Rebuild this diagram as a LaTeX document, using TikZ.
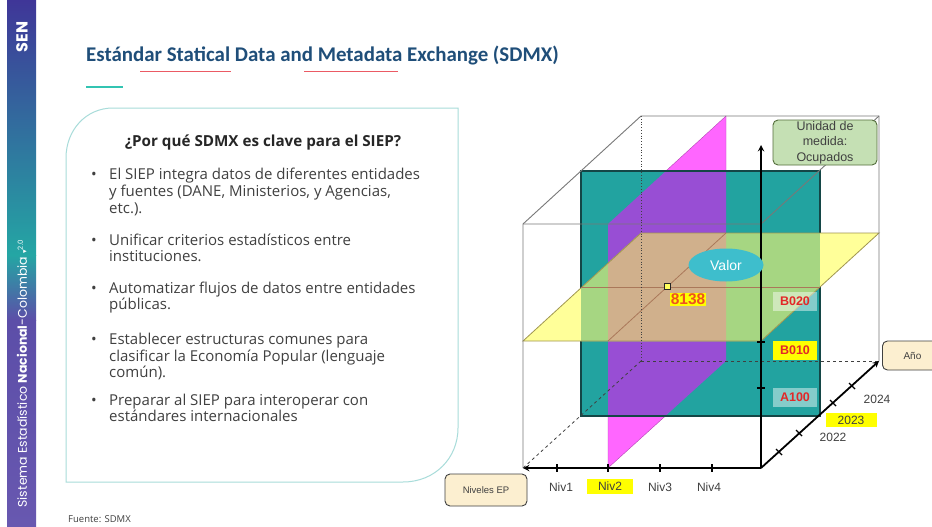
\documentclass[tikz,border=0pt]{standalone}
\usepackage{fontspec}
\setmainfont{Open Sans}
\newfontfamily\titlefont{Carlito}
\newfontfamily\labelfont{Liberation Sans}
\newfontfamily\sidefont{Poppins}
\newfontfamily\symfont{DejaVu Sans}
\usetikzlibrary{calc}
\usetikzlibrary{positioning}
\usetikzlibrary{shapes}
\definecolor{navy1}{RGB}{31,78,121}
\definecolor{teal1}{RGB}{51,196,178}
\definecolor{teal2}{RGB}{168,220,218}
\definecolor{gray1}{RGB}{64,64,64}
\definecolor{gray2}{RGB}{120,120,120}
\definecolor{gray3}{RGB}{38,38,38}
\definecolor{side1}{RGB}{63,54,152}
\definecolor{side2}{RGB}{36,166,164}
\definecolor{side3}{RGB}{92,78,168}
\definecolor{side4}{RGB}{104,88,176}
\definecolor{cubeteal}{RGB}{34,163,160}
\definecolor{cubemag}{RGB}{255,102,255}
\definecolor{cubepurple}{RGB}{152,78,212}
\definecolor{cubeyellow}{RGB}{255,255,153}
\definecolor{cubegreen}{RGB}{166,214,130}
\definecolor{cubetan}{RGB}{208,176,140}
\definecolor{tealedge}{RGB}{20,70,70}
\definecolor{yelledge}{RGB}{160,150,80}
\definecolor{brown1}{RGB}{170,120,90}
\definecolor{valor}{RGB}{62,190,204}
\definecolor{red1}{RGB}{226,40,40}
\definecolor{pink1}{RGB}{235,90,100}
\definecolor{orange1}{RGB}{238,80,30}
\definecolor{hilite}{RGB}{255,255,0}
\definecolor{peach}{RGB}{252,239,208}
\definecolor{green1}{RGB}{197,224,180}
\definecolor{green2}{RGB}{84,110,60}

\begin{document}
\begin{tikzpicture}[x=1pt,y=-1pt,
	bodytext/.style={anchor=base west,inner sep=0pt,text=gray1,font=\fontsize{15}{17}\selectfont},
	bulletdot/.style={anchor=base,inner sep=0pt,text=gray1,font=\fontsize{15}{17}\selectfont},
	axislabel/.style={text=gray1,font=\labelfont\fontsize{12}{14}\selectfont,inner sep=1pt},
	codelabel/.style={text=red1,font=\labelfont\bfseries\fontsize{12.5}{14}\selectfont,minimum width=44pt,minimum height=19pt,inner sep=0pt},
	axisline/.style={draw=black,line width=1.8pt},
	cubeedge/.style={draw=gray2,line width=0.9pt},
	backedge/.style={draw=gray1,line width=0.8pt,dashed},
	tickmark/.style={draw=black,line width=1.4pt},
	callout/.style={draw=gray1,rounded corners=5pt,line width=0.9pt,text=gray1,align=center}]

	\useasboundingbox (0,0) rectangle (932,527);
	\fill[white] (0,0) rectangle (932,527);

	%%% Side band
	\shade[top color=side1,bottom color=side2] (7,0) rectangle (36,255);
	\shade[top color=side2,bottom color=side3] (7,255) rectangle (36,320);
	\shade[top color=side3,bottom color=side4] (7,320) rectangle (36,527);
	\node[rotate=90,text=white,font=\sidefont\bfseries\fontsize{16}{18}\selectfont] (sen) at (22,37) {SEN};
	\node[rotate=90,text=white,font=\sidefont\fontsize{12.5}{14}\selectfont,anchor=west] (sistema) at (22,511)
		{Sistema Estadístico \textbf{Nacional}-Colombia {\symfont\scriptsize ▾}\raisebox{4pt}{\scriptsize 2.0}};

	%%% Title
	\node[anchor=base west,inner sep=0pt,text=navy1,font=\titlefont\bfseries\fontsize{20.9}{24}\selectfont] (title) at (86,62)
		{Estándar Statical Data and Metadata Exchange (SDMX)};
	\draw[pink1,line width=0.8pt] (140,71) -- (231,71);
	\draw[pink1,line width=0.8pt] (304,71) -- (398,71);
	\draw[teal1,line width=2.5pt] (86,87) -- (123,87);

	%%% Text box
	\draw[teal2,line width=1pt,fill=white] (113,108) -- (458,108) -- (458,428)
		.. controls (458,458) and (435,482) .. (403,482) -- (66,482) -- (66,158)
		.. controls (66,130) and (86,108) .. (113,108) -- cycle;
	\node[anchor=base,inner sep=0pt,text=gray3,font=\bfseries\fontsize{15.2}{17}\selectfont] (head) at (263,146.5)
		{¿Por qué SDMX es clave para el SIEP?};

	%%% Bullets
	\node[bulletdot] (dot1) at (94,179.5) {•};
	\node[bodytext] (b1a) at (109,179.5) {El SIEP integra datos de diferentes entidades};
	\node[bodytext] (b1b) at (109,196.5) {y fuentes (DANE, Ministerios, y Agencias,};
	\node[bodytext] (b1c) at (109,213.5) {etc.).};
	\node[bulletdot] (dot2) at (94,245.5) {•};
	\node[bodytext] (b2a) at (109,245.5) {Unificar criterios estadísticos entre};
	\node[bodytext] (b2b) at (109,261.5) {instituciones.};
	\node[bulletdot] (dot3) at (94,293.5) {•};
	\node[bodytext] (b3a) at (109,293.5) {Automatizar flujos de datos entre entidades};
	\node[bodytext] (b3b) at (109,309.5) {públicas.};
	\node[bulletdot] (dot4) at (94,344.5) {•};
	\node[bodytext] (b4a) at (109,344.5) {Establecer estructuras comunes para};
	\node[bodytext] (b4b) at (109,361.5) {clasificar la Economía Popular (lenguaje};
	\node[bodytext] (b4c) at (109,377.5) {común).};
	\node[bulletdot] (dot5) at (94,405.5) {•};
	\node[bodytext] (b5a) at (109,405.5) {Preparar al SIEP para interoperar con};
	\node[bodytext] (b5b) at (109,421.5) {estándares internacionales};

	\node[anchor=base west,inner sep=0pt,text=gray1,font=\fontsize{9.5}{11}\selectfont] (fuente) at (68,522.5) {Fuente: SDMX};

	%%% Cube corners
	\coordinate (O) at (761,468);
	\coordinate (X) at (523,468);
	\coordinate (Y) at (761,145);
	\coordinate (Z) at (879,361);
	\coordinate (ftl) at (523,224);
	\coordinate (ftr) at (761,224);
	\coordinate (btl) at (641,116);
	\coordinate (btr) at (879,116);
	\coordinate (bbl) at (641,361);

	%%% Niv2 plane (magenta) and year plane (teal)
	\filldraw[fill=cubemag,draw=cubemag!70!black,thin] (608,468) -- (608,224) -- (726,116) -- (726,361) -- cycle;
	\fill[cubeteal] (581,171) rectangle (820,416);
	\begin{scope}
		\clip (608,468) -- (608,224) -- (726,116) -- (726,361) -- cycle;
		\fill[cubepurple] (581,171) rectangle (820,416);
	\end{scope}
	\draw[tealedge,line width=1.2pt] (581,171) rectangle (820,416);

	%%% Code plane (yellow)
	\fill[cubeyellow] (523,341) -- (761,341) -- (879,233) -- (641,233) -- cycle;
	\begin{scope}
		\clip (523,341) -- (761,341) -- (879,233) -- (641,233) -- cycle;
		\fill[cubegreen] (581,171) rectangle (820,416);
		\clip (608,468) -- (608,224) -- (726,116) -- (726,361) -- cycle;
		\fill[cubetan] (581,171) rectangle (820,416);
	\end{scope}
	\draw[yelledge,line width=0.8pt] (523,341) -- (761,341) -- (879,233) -- (641,233) -- cycle;
	\draw[brown1,line width=0.8pt] (581,287) -- (820,287);
	\draw[brown1,line width=0.8pt] (608,341) -- (726,233);

	%%% Back edges
	\draw[backedge,dotted] (btl) -- (bbl);
	\draw[backedge] (bbl) -- (Z);
	\draw[backedge] (bbl) -- (X);

	%%% Front edges
	\draw[cubeedge] (X) -- (ftl) -- (btl) -- (btr) -- (Z);
	\draw[cubeedge] (ftl) -- (ftr) -- (btr);

	%%% Axes
	\draw[axisline,-stealth] (O) -- (X);
	\draw[axisline,-stealth] (O) -- (Y);
	\draw[axisline,-stealth] (O) -- (Z);
	\draw[tickmark] (557,464) -- (557,472);
	\draw[tickmark] (608,464) -- (608,472);
	\draw[tickmark] (660,464) -- (660,472);
	\draw[tickmark] (712,464) -- (712,472);
	\draw[tickmark] (757,342) -- (765,342);
	\draw[tickmark] (757,388) -- (765,388);
	\draw[tickmark] (776,449) -- (782,455);
	\draw[tickmark] (796,430) -- (802,436);
	\draw[tickmark] (830,400) -- (836,406);
	\draw[tickmark] (849,383) -- (855,389);

	%%% Axis labels
	\node[axislabel] (niv1) at (561,487) {Niv1};
	\node[axislabel,fill=hilite,minimum width=46pt,minimum height=15pt] (niv2) at (610,486) {Niv2};
	\node[axislabel] (niv3) at (660,487) {Niv3};
	\node[axislabel] (niv4) at (709,487) {Niv4};
	\node[axislabel] (y2022) at (833,437) {2022};
	\node[axislabel,fill=hilite,minimum width=51pt,minimum height=14pt] (y2023) at (851,420) {2023};
	\node[axislabel] (y2024) at (877,399) {2024};

	%%% Codes
	\node[codelabel,fill=white,fill opacity=0.45,text opacity=1] (b020) at (795,301) {B020};
	\node[codelabel,fill=hilite] (b010) at (795,350) {B010};
	\node[codelabel,fill=white,fill opacity=0.45,text opacity=1] (a100) at (795,397) {A100};

	%%% Value
	\node[draw=gray3,fill=cubeyellow!60!hilite,minimum size=6pt,inner sep=0pt,line width=0.8pt] (point) at (667,286) {};
	\node[fill=hilite,text=orange1,font=\labelfont\bfseries\fontsize{15.5}{17}\selectfont,inner sep=1pt] (dato) at (688,299) {8138};
	\node[ellipse,fill=valor,text=white,minimum width=75pt,minimum height=33pt,inner sep=0pt,font=\labelfont\fontsize{14}{16}\selectfont] (valor) at (726,265) {Valor};

	%%% Callouts
	\node[callout,fill=green1,draw=green2,minimum width=104pt,minimum height=45pt,inner sep=0pt,
		font=\labelfont\fontsize{12.5}{15.5}\selectfont] (unidad) at (825,142.5) {Unidad de\\medida:\\Ocupados};
	\node[callout,fill=peach,minimum width=60pt,minimum height=29pt,anchor=west,
		font=\labelfont\fontsize{10}{12}\selectfont] (anio) at (882,355.5) {Año};
	\node[callout,fill=peach,minimum width=82pt,minimum height=32pt,
		font=\labelfont\fontsize{9.5}{12}\selectfont] (niveles) at (486,490) {Niveles EP};

\end{tikzpicture}
\end{document}
